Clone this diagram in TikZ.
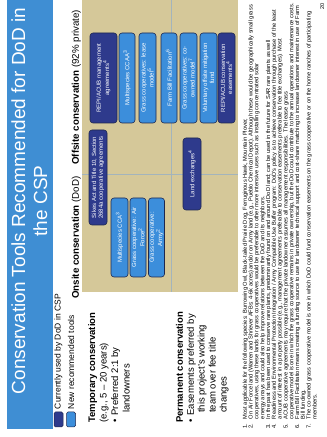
\documentclass[tikz,border=0pt]{standalone}
\usepackage{fontspec}
\setmainfont{Liberation Sans}
\usetikzlibrary{positioning}

\definecolor{titleblue}{HTML}{3F8ED3}
\definecolor{dodnavy}{HTML}{2E3A8C}
\definecolor{newblue}{HTML}{3C8EDB}
\definecolor{chartan}{HTML}{D5C899}
\definecolor{gridgray}{HTML}{A3B4BC}
\definecolor{boxedge}{HTML}{1E2850}

\tikzset{
  toolbox/.style={draw=boxedge, line width=0.6pt, rounded corners=3pt, text=white,
    align=center, inner sep=0pt, font=\fontsize{6}{6.8}\selectfont},
  dodtool/.style={toolbox, fill=dodnavy},
  newtool/.style={toolbox, fill=newblue},
  keybox/.style={draw=boxedge, line width=0.5pt, rounded corners=1.5pt,
    minimum width=15pt, minimum height=9pt, inner sep=0pt},
  keytext/.style={anchor=west, inner sep=0pt, font=\fontsize{8.5}{10}\selectfont},
  coltext/.style={anchor=base west, align=left, inner sep=0pt, font=\fontsize{9.5}{11.5}\selectfont},
  headtext/.style={anchor=base west, inner sep=0pt, font=\fontsize{9.75}{11}\selectfont},
  gridline/.style={gridgray, line width=0.8pt},
}

\begin{document}
\begin{tikzpicture}[x=1pt, y=1pt]
\begin{scope}[rotate=90, transform shape]
  \useasboundingbox (0,0) rectangle (437,-327);
  \clip (0,0) rectangle (437,-327);

  % Title bar
  \fill[titleblue] (8,-7) rectangle (472,-53);
  \node[anchor=base, inner sep=0pt, text=white, font=\fontsize{19}{22}\selectfont]
    (title1) at (236,-25) {Conservation Tools Recommended for DoD in};
  \node[anchor=base, inner sep=0pt, text=white, font=\fontsize{19}{22}\selectfont]
    (title2) at (236,-47) {the CSP};

  % Legend
  \node[keybox, fill=dodnavy] (keydod) at (17.5,-58.5) {};
  \node[keybox, fill=newblue] (keynew) at (17.5,-71) {};
  \node[keytext, right=2.5pt of keydod] (keydodtext) {Currently used by DoD in CSP};
  \node[keytext, right=2.5pt of keynew] (keynewtext) {New recommended tools};

  % Column headers
  \node[headtext] (onsitehead) at (138,-79) {\textbf{Onsite conservation} (DoD)};
  \node[headtext] (offsitehead) at (272,-79) {\textbf{Offsite conservation} (92\% private)};

  % Row texts (base = last line)
  \node[coltext] (temphead) at (14,-129.5) {\textbf{Temporary conservation}\\
    (e.g., 5 -- 20 years)\\
    \textbullet\hspace{4pt}Preferred 2:1 by\\
    \hspace*{10pt}landowners};
  \node[coltext, font=\fontsize{9.5}{10.9}\selectfont] (permhead) at (14,-226.5) {\textbf{Permanent conservation}\\
    \textbullet\hspace{4pt}Easements preferred by\\
    \hspace*{10pt}this project's working\\
    \hspace*{10pt}team over fee title\\
    \hspace*{10pt}changes};

  % Chart area
  \fill[chartan] (145,-82) rectangle (480,-238);
  \draw[gridline] (263,-82) -- (263,-238);
  \draw[gridline] (145,-171) -- (480,-171);

  % Onsite tools
  \node[dodtool, minimum width=95pt, minimum height=18pt] (sikes) at (259.5,-98)
    {Sikes Act and Title 10, Section\\2684a cooperative agreements};
  \node[newtool, minimum width=79pt, minimum height=17pt] (ccaonsite) at (199.5,-119.5)
    {Multispecies CCA\textsuperscript{3}};
  \node[newtool, minimum width=79pt, minimum height=16pt] (grassaf) at (199.5,-138)
    {Grass cooperative: Air\\Force\textsuperscript{2}};
  \node[newtool, minimum width=79pt, minimum height=16pt] (grassarmy) at (199.5,-156.5)
    {Grass cooperative:\\Army\textsuperscript{2}};
  \node[dodtool, minimum width=72pt, minimum height=18pt] (landx) at (263,-192)
    {Land exchanges\textsuperscript{4}};

  % Offsite tools
  \node[dodtool, minimum width=90pt, minimum height=27pt] (repimgmt) at (359,-103.5)
    {REPI/ACUB management\\agreements\textsuperscript{4}};
  \node[newtool, minimum width=90pt, minimum height=16pt] (ccaaoffsite) at (359,-127)
    {Multispecies CCAA\textsuperscript{3}};
  \node[newtool, minimum width=90pt, minimum height=17pt] (grasslease) at (359,-147.5)
    {Grass cooperatives: lease\\model\textsuperscript{5}};
  \node[newtool, minimum width=90pt, minimum height=16pt] (farmbill) at (359,-169)
    {Farm Bill Facilitation\textsuperscript{6}};
  \node[newtool, minimum width=90pt, minimum height=17pt] (grasscoown) at (359,-188.5)
    {Grass cooperatives: co-\\owned model\textsuperscript{7}};
  \node[newtool, minimum width=90pt, minimum height=17pt] (mitfund) at (359,-208.5)
    {Voluntary offsite mitigation\\fund};
  \node[dodtool, minimum width=90pt, minimum height=17pt] (repiease) at (359,-226.5)
    {REPI/ACUB conservation\\easements\textsuperscript{4}};

  % Footnotes
  \node[anchor=north west, inner sep=0pt, font=\fontsize{5.7}{5.6}\selectfont] (notes) at (8,-242.5) {%
    \begin{tabular}{@{}l@{\hspace{5pt}}l@{}}
    1. & Most applicable for the following species: Burrowing Owl, Black-tailed Prairie Dog, Ferruginous Hawk, Mountain Plover,\\
    2. & On Air Force land (Warren and Shriever AFBs: 4-6k acres) and/or on Army land (e.g., Pueblo Chemical Depot). Although these would be geographically small grass\\
       & cooperatives, using these lands for grass cooperatives would be preferable to other more intensive uses such as installing concentrated solar\\
       & energy arrays and could also help improve relations between the DoD and its neighbors.\\
    3. & In the past has been used to conserve rare plants, predominantly found on and around DoD land; can be used in the future for SAR rare plants as well\\
    4. & Readiness and Environmental Protection Integration / Army Compatible Use Buffer program: DoD's policy is to achieve conservation through purchase of the least\\
       & amount of interest in a property possible (e.g., management agreements preferable to conservation easements preferable to fee title exchanges). Most\\
    5. & ACUB cooperative agreements may require that the private landowner assumes all management responsibilities. The lease grass\\
       & cooperative model is one in which the grass cooperative remains in private ownership, but the DoD could contribute to the annual operations and maintenance costs.\\
    6. & Farm Bill Facilitation means creating a funding source to use for landowner technical support and cost-share matching to increase landowner interest in use of Farm\\
       & Bill funding.\\
    7. & The co-owned grass cooperative model is one in which DoD could fund conservation easements on the grass cooperative or on the home ranches of participating\\
       & members.
    \end{tabular}};

  % Page number
  \node[anchor=base east, inner sep=0pt, font=\fontsize{5.5}{6}\selectfont] (pagenum) at (434,-324) {20};
\end{scope}
\end{tikzpicture}
\end{document}
